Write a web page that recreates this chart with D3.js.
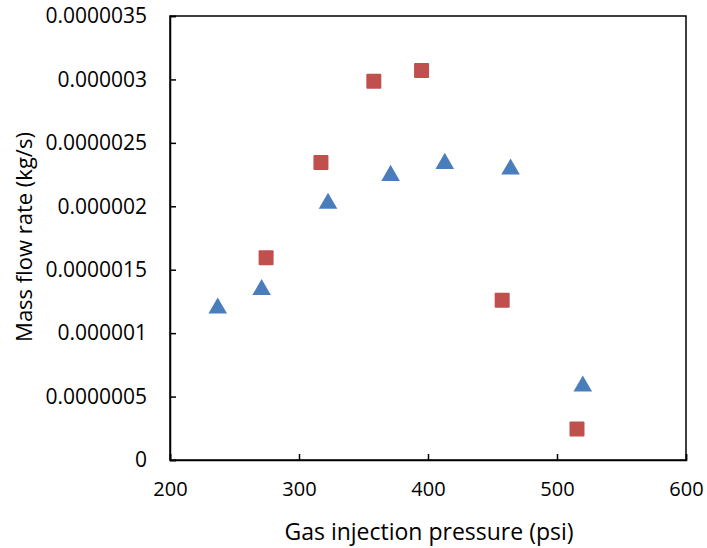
<!DOCTYPE html>
<html><head><meta charset="utf-8">
<script src="https://cdn.jsdelivr.net/npm/d3@7"></script>
<style>body{margin:0;background:#fff}svg{display:block}text{font-family:"Open Sans",sans-serif;fill:#000}</style>
</head><body>
<script>
const triX = [237, 271, 322.5, 371, 413, 464, 520];
const triY = [1.205e-6, 1.35e-6, 2.03e-6, 2.25e-6, 2.345e-6, 2.3e-6, 0.59e-6];
const sqX = [274.5, 317, 358, 395, 457.5, 515.5];
const sqY = [1.595e-6, 2.345e-6, 2.985e-6, 3.07e-6, 1.26e-6, 0.245e-6];
const xTicks = [200, 300, 400, 500, 600];
const yTicks = [0, 0.0000005, 0.000001, 0.0000015, 0.000002, 0.0000025, 0.000003, 0.0000035];
const yTickLabels = ["0","0.0000005","0.000001","0.0000015","0.000002","0.0000025","0.000003","0.0000035"];

const W = 707, H = 548;
const svg = d3.select("body").append("svg").attr("width", W).attr("height", H);
const x = d3.scaleLinear().domain([200, 600]).range([170, 686]);
const y = d3.scaleLinear().domain([0, 3.5e-6]).range([460, 16]);

// frame
svg.append("rect").attr("x", 170).attr("y", 16).attr("width", 516).attr("height", 444)
  .attr("fill", "none").attr("stroke", "#000").attr("stroke-width", 1.5);

const xa = svg.append("g").attr("transform", "translate(0,460)")
  .call(d3.axisBottom(x).tickValues(xTicks).tickSize(-6).tickPadding(22).tickFormat(d3.format("d")));
const ya = svg.append("g").attr("transform", "translate(170,0)")
  .call(d3.axisLeft(y).tickValues(yTicks).tickSize(-6).tickPadding(22).tickFormat((d,i)=>yTickLabels[i]));
[xa, ya].forEach(g => {
  g.select(".domain").attr("stroke", "#000").attr("stroke-width", 1.5);
  g.selectAll(".tick line").attr("stroke", "#000").attr("stroke-width", 1.5);
  g.selectAll("text").attr("font-family", "Open Sans");
});
xa.selectAll(".tick text").attr("font-size", 20);
ya.selectAll(".tick text").attr("font-size", 21).attr("x", -23);

const tri = d3.symbol().type(d3.symbolTriangle).size(150);
svg.append("g").selectAll("path").data(triX).join("path")
  .attr("d", tri)
  .attr("transform", (d,i) => `translate(${x(d)},${y(triY[i])+1})`)
  .attr("fill", "#4A7EBB");

svg.append("g").selectAll("rect").data(sqX).join("rect")
  .attr("x", d => x(d) - 7.5).attr("y", (d,i) => y(sqY[i]) - 7.5)
  .attr("width", 15).attr("height", 15).attr("rx", 1)
  .attr("fill", "#C0504D");

svg.append("text").attr("x", 429).attr("y", 540).attr("text-anchor", "middle")
  .attr("font-size", 23).text("Gas injection pressure (psi)");
svg.append("text").attr("transform", "translate(32,237) rotate(-90)").attr("text-anchor", "middle")
  .attr("font-size", 22).text("Mass flow rate (kg/s)");
</script>
</body></html>
